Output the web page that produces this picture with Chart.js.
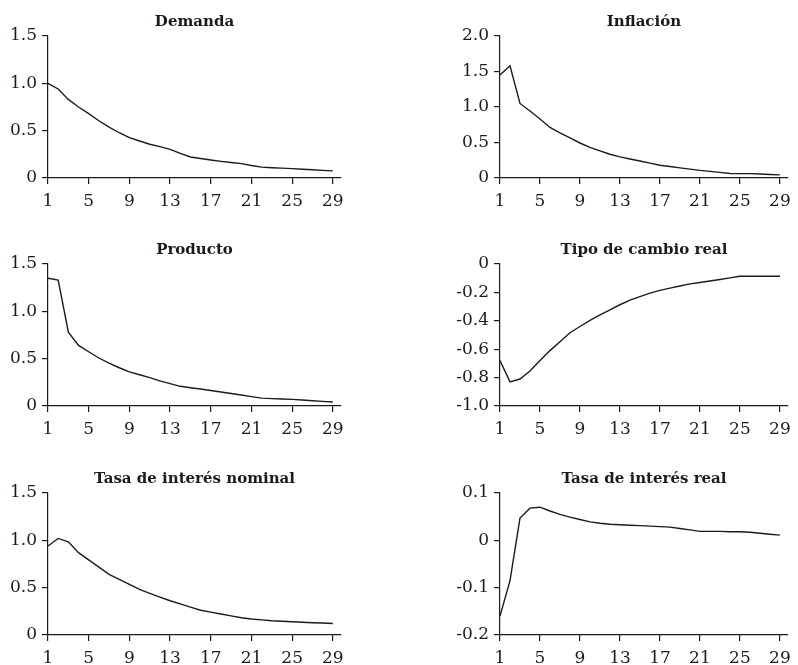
<!DOCTYPE html>
<html><head><meta charset="utf-8">
<script src="https://cdn.jsdelivr.net/npm/chart.js@4.4.0/dist/chart.umd.min.js"></script>
<style>
html,body{margin:0;padding:0;background:#fff;width:798px;height:665px;overflow:hidden;}
.cell{position:absolute;}
canvas{display:block;}
</style></head><body>
<div class="cell" style="left:0px;top:0px"><canvas id="c0" width="400" height="208"></canvas></div>
<div class="cell" style="left:400px;top:0px"><canvas id="c1" width="398" height="208"></canvas></div>
<div class="cell" style="left:0px;top:228px"><canvas id="c2" width="400" height="208"></canvas></div>
<div class="cell" style="left:400px;top:228px"><canvas id="c3" width="398" height="208"></canvas></div>
<div class="cell" style="left:0px;top:457px"><canvas id="c4" width="400" height="208"></canvas></div>
<div class="cell" style="left:400px;top:457px"><canvas id="c5" width="398" height="208"></canvas></div>
<script>
// Periods (x) and x-axis tick labels
const periods = [1,2,3,4,5,6,7,8,9,10,11,12,13,14,15,16,17,18,19,20,21,22,23,24,25,26,27,28,29];
const xTicks = [1,5,9,13,17,21,25,29];

// Series values
const demanda = [1.00,0.94,0.83,0.75,0.68,0.605,0.537,0.478,0.427,0.391,0.357,0.331,0.302,0.261,0.222,0.206,0.19,0.176,0.164,0.152,0.132,0.115,0.109,0.104,0.099,0.092,0.087,0.081,0.075];
const inflacion = [1.45,1.58,1.05,0.944,0.83,0.712,0.636,0.564,0.493,0.431,0.383,0.334,0.297,0.268,0.239,0.209,0.18,0.162,0.143,0.125,0.107,0.093,0.079,0.064,0.061,0.061,0.056,0.05,0.044];
const producto = [1.35,1.33,0.78,0.64,0.573,0.507,0.454,0.404,0.36,0.33,0.30,0.266,0.236,0.208,0.193,0.179,0.164,0.148,0.132,0.116,0.099,0.083,0.078,0.074,0.07,0.063,0.056,0.049,0.042];
const tipoCambio = [-0.68,-0.83,-0.81,-0.754,-0.68,-0.61,-0.547,-0.484,-0.44,-0.397,-0.358,-0.323,-0.287,-0.255,-0.23,-0.205,-0.186,-0.17,-0.155,-0.14,-0.13,-0.12,-0.109,-0.098,-0.086,-0.086,-0.086,-0.086,-0.086];
const tasaNominal = [0.94,1.02,0.985,0.87,0.793,0.717,0.64,0.587,0.534,0.481,0.44,0.401,0.362,0.328,0.295,0.262,0.241,0.222,0.202,0.182,0.169,0.16,0.151,0.145,0.14,0.135,0.13,0.126,0.121];
const tasaReal = [-0.16,-0.085,0.047,0.068,0.07,0.062,0.055,0.049,0.044,0.039,0.036,0.034,0.033,0.032,0.031,0.03,0.029,0.028,0.025,0.022,0.019,0.019,0.019,0.018,0.018,0.017,0.015,0.013,0.011];

// Y-axis tick labels
const demandaTicks = [0,0.5,1.0,1.5];
const inflacionTicks = [0,0.5,1.0,1.5,2.0];
const productoTicks = [0,0.5,1.0,1.5];
const tipoCambioTicks = [-1.0,-0.8,-0.6,-0.4,-0.2,0];
const tasaNominalTicks = [0,0.5,1.0,1.5];
const tasaRealTicks = [-0.2,-0.1,0,0.1];

const titles = ['Demanda','Inflación','Producto','Tipo de cambio real','Tasa de interés nominal','Tasa de interés real'];

const INK = '#1e1a1b';
const FONT = 'DejaVu Serif';

const panels = [
  {id:'c0', title:titles[0], values:demanda, ticks:demandaTicks, col:0},
  {id:'c1', title:titles[1], values:inflacion, ticks:inflacionTicks, col:1},
  {id:'c2', title:titles[2], values:producto, ticks:productoTicks, col:0},
  {id:'c3', title:titles[3], values:tipoCambio, ticks:tipoCambioTicks, col:1},
  {id:'c4', title:titles[4], values:tasaNominal, ticks:tasaNominalTicks, col:0},
  {id:'c5', title:titles[5], values:tasaReal, ticks:tasaRealTicks, col:1}
];

function fmt(v){
  if (Math.abs(v) < 1e-9) return '0';
  return v.toFixed(1);
}

function makeChart(p){
  const left = p.col === 0;
  const yWidth = left ? 48 : 100;
  const padRight = left ? 59 : 6;
  new Chart(document.getElementById(p.id), {
    type: 'line',
    data: {
      datasets: [{
        data: periods.map((x, i) => ({x: x, y: p.values[i]})),
        borderColor: INK,
        borderWidth: 1.4,
        pointRadius: 0,
        tension: 0,
        fill: false
      }]
    },
    options: {
      responsive: false,
      animation: false,
      devicePixelRatio: 1,
      layout: {padding: {left: 0, right: padRight, top: 0, bottom: 0}},
      plugins: {
        legend: {display: false},
        tooltip: {enabled: false},
        title: {
          display: true,
          text: p.title,
          fullSize: false,
          color: INK,
          font: {family: FONT, size: 15, weight: 'bold', lineHeight: 1.2},
          padding: {top: 13, bottom: 5}
        }
      },
      scales: {
        x: {
          type: 'linear',
          min: 1,
          max: 29.8,
          afterBuildTicks: s => { s.ticks = xTicks.map(v => ({value: v})); },
          afterFit: s => { s.height = 30; },
          border: {display: true, color: INK, width: 1.2},
          grid: {drawOnChartArea: false, drawTicks: true, tickLength: 6, color: INK, lineWidth: 1.2},
          ticks: {color: INK, font: {family: FONT, size: 17}, padding: 7, maxRotation: 0, autoSkip: false, callback: v => String(v)}
        },
        y: {
          type: 'linear',
          min: p.ticks[0],
          max: p.ticks[p.ticks.length - 1],
          afterBuildTicks: s => { s.ticks = p.ticks.map(v => ({value: v})); },
          afterFit: s => { s.width = yWidth; },
          border: {display: true, color: INK, width: 1.2},
          grid: {drawOnChartArea: false, drawTicks: true, tickLength: 6, color: INK, lineWidth: 1.2},
          ticks: {color: INK, font: {family: FONT, size: 17}, padding: 5, autoSkip: false, callback: v => fmt(v)}
        }
      }
    }
  });
}

panels.forEach(makeChart);
</script>
</body></html>
